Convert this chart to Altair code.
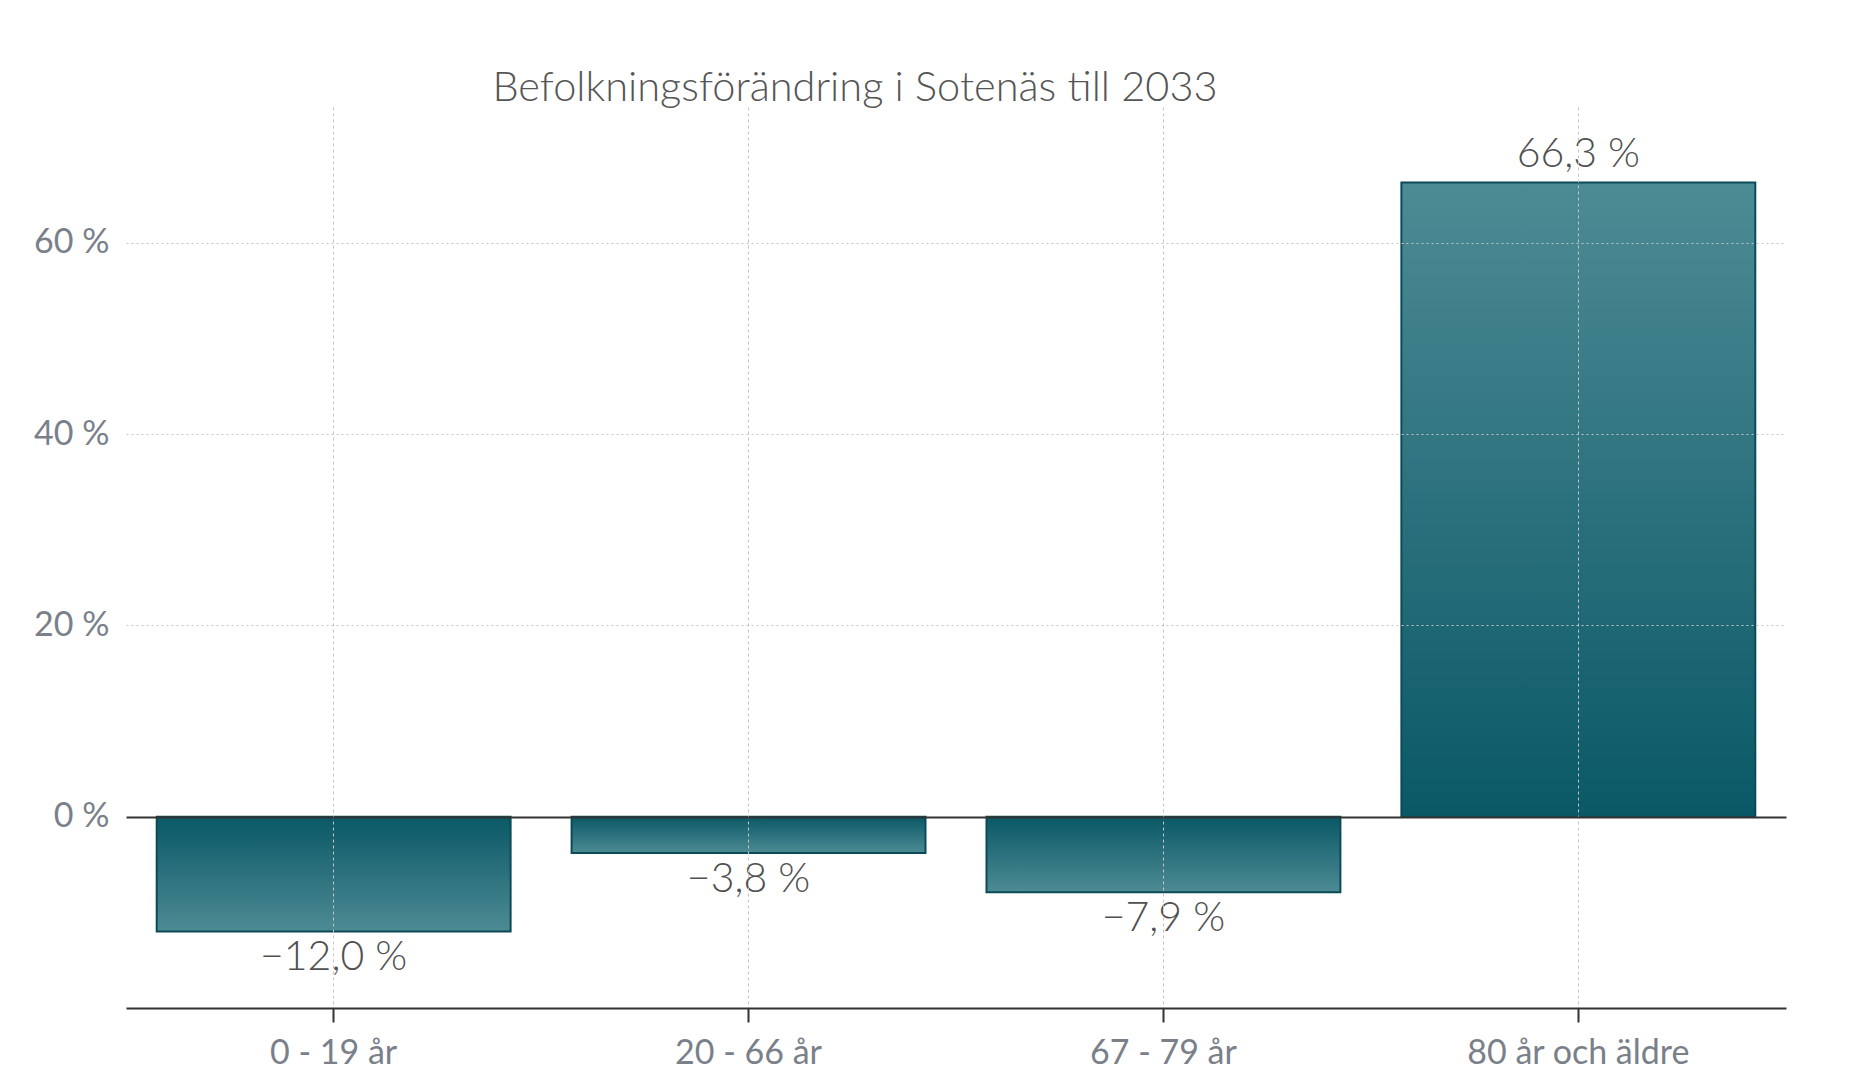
import altair as alt
import pandas as pd

categories = ["0 - 19 år", "20 - 66 år", "67 - 79 år", "80 år och äldre"]
values = [-12.0, -3.8, -7.9, 66.3]
y_ticks = [0, 20, 40, 60]
title_text = "Befolkningsförändring i Sotenäs till 2033"


def fmt(v):
    return f"{v:.1f}".replace(".", ",").replace("-", "\u2212") + " %"


df = pd.DataFrame({"cat": categories, "v": values, "label": [fmt(v) for v in values]})

LIGHT = "#4d8b94"
DARK = "#0a5866"
FONT = "Lato"

grad_pos = {"gradient": "linear", "x1": 0, "y1": 0, "x2": 0, "y2": 1,
            "stops": [{"offset": 0, "color": LIGHT}, {"offset": 1, "color": DARK}]}
grad_neg = {"gradient": "linear", "x1": 0, "y1": 0, "x2": 0, "y2": 1,
            "stops": [{"offset": 0, "color": DARK}, {"offset": 1, "color": LIGHT}]}

x = alt.X(
    "cat:N", sort=categories,
    scale=alt.Scale(paddingInner=0.147, paddingOuter=0.074),
    axis=alt.Axis(title=None, labelAngle=0, bandPosition=0.5, grid=True,
                  gridDash=[3, 3], gridColor="#c4c4c4", gridWidth=1,
                  domainColor="#333333", domainWidth=2,
                  tickColor="#333333", tickSize=14, tickWidth=2,
                  labelFont=FONT, labelFontSize=34, labelColor="#7a808a",
                  labelPadding=14, labelLimit=0, zindex=1),
)
y = alt.Y(
    "v:Q",
    scale=alt.Scale(domain=[-20, 74.2], nice=False, zero=False),
    axis=alt.Axis(title=None, values=y_ticks, labelExpr="datum.value + ' %'",
                  grid=True,
                  gridColor={"condition": {"test": "datum.value === 0", "value": "#333333"}, "value": "#c4c4c4"},
                  gridDash={"condition": {"test": "datum.value === 0", "value": [1, 0]}, "value": [2, 3]},
                  gridWidth={"condition": {"test": "datum.value === 0", "value": 2}, "value": 1},
                  domain=False, ticks=False, labelPadding=17,
                  labelFont=FONT, labelFontSize=34, labelColor="#7a808a", zindex=1),
)

base = alt.Chart(df)

bars_pos = base.transform_filter("datum.v >= 0").mark_bar(
    fill=grad_pos, stroke="#0b4b57", strokeWidth=2).encode(x=x, y=y, y2=alt.datum(0))
bars_neg = base.transform_filter("datum.v < 0").mark_bar(
    fill=grad_neg, stroke="#0b4b57", strokeWidth=2).encode(x=x, y=y, y2=alt.datum(0))

text_pos = base.transform_filter("datum.v >= 0").mark_text(
    baseline="alphabetic", dy=-16, font=FONT, fontSize=41, fontWeight=300,
    color="#505050").encode(x=x, y=y, text="label:N")
text_neg = base.transform_filter("datum.v < 0").mark_text(
    baseline="top", dy=7, font=FONT, fontSize=41, fontWeight=300,
    color="#505050").encode(x=x, y=y, text="label:N")

chart = alt.layer(bars_pos, bars_neg, text_pos, text_neg).properties(
    width=1660, height=901,
    title=alt.TitleParams(text=title_text, font=FONT, fontSize=41.5, fontWeight=300,
                          color="#555555", anchor="middle", frame="group", dx=-101, offset=-2),
    autosize=alt.AutoSizeParams(type="none"),
    padding={"left": 118, "top": 99, "right": 60, "bottom": 72},
).configure(background="white").configure_view(stroke=None)

chart.save("out.html", embed_options={"renderer": "svg", "actions": False})
